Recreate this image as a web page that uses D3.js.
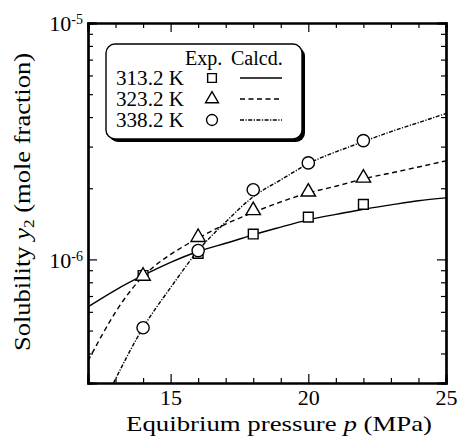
<!DOCTYPE html>
<html>
<head>
<meta charset="utf-8">
<script src="https://cdn.jsdelivr.net/npm/d3@7"></script>
<style>
    body { margin: 0; background: #fff; }
    text { font-family: "Liberation Serif", "Times New Roman", serif; fill: #000; }
    .axis path, .axis line { stroke: #000; }
</style>
</head>
<body>
<div id="chart"></div>
<script>
// experimental points
const expP = [14, 16, 18, 20, 22];
const exp313 = [8.55e-7, 1.06e-6, 1.28e-6, 1.51e-6, 1.71e-6];
const exp323 = [8.5e-7, 1.24e-6, 1.61e-6, 1.93e-6, 2.21e-6];
const exp338 = [5.14e-7, 1.09e-6, 1.97e-6, 2.56e-6, 3.18e-6];

// calculated curves
const calcP = [12, 13, 14, 15, 16, 17, 18, 19, 20, 21, 22, 23, 24, 25];
const calc313 = [6.3e-7, 7.42e-7, 8.55e-7, 9.71e-7, 1.08e-6, 1.17e-6, 1.27e-6, 1.37e-6, 1.47e-6, 1.55e-6, 1.63e-6, 1.70e-6, 1.77e-6, 1.82e-6];
const calc323 = [3.72e-7, 5.98e-7, 8.47e-7, 1.05e-6, 1.23e-6, 1.41e-6, 1.58e-6, 1.75e-6, 1.91e-6, 2.04e-6, 2.19e-6, 2.32e-6, 2.46e-6, 2.61e-6];
const calc338 = [1.82e-7, 3.12e-7, 5.14e-7, 7.60e-7, 1.09e-6, 1.44e-6, 1.84e-6, 2.17e-6, 2.54e-6, 2.85e-6, 3.15e-6, 3.47e-6, 3.79e-6, 4.14e-6];

const labels = ["313.2 K", "323.2 K", "338.2 K"];
const xMajor = [15, 20, 25];
const xMinor = [13, 14, 16, 17, 18, 19, 21, 22, 23, 24];
const yMajor = [1e-6, 1e-5];
const yMinor = [3e-7, 4e-7, 5e-7, 6e-7, 7e-7, 8e-7, 9e-7, 2e-6, 3e-6, 4e-6, 5e-6, 6e-6, 7e-6, 8e-6, 9e-6];

const W = 460, H = 445;
const margin = {top: 23, right: 14, bottom: 62, left: 88};
const width = W - margin.left - margin.right;
const height = H - margin.top - margin.bottom;

const svg = d3.select("#chart").append("svg")
    .attr("width", W)
    .attr("height", H);

const g = svg.append("g")
    .attr("transform", `translate(${margin.left}, ${margin.top})`);

const x = d3.scaleLinear().domain([12, 25]).range([0, width]);
const y = d3.scaleLog().domain([3e-7, 1e-5]).range([height, 0]);

g.append("clipPath").attr("id", "clip")
    .append("rect")
    .attr("width", width)
    .attr("height", height);

// curves
const series = [
    {calc: calc313, exp: exp313, dash: null, sym: d3.symbolSquare, size: 95},
    {calc: calc323, exp: exp323, dash: "5,3.5", sym: d3.symbolTriangle, size: 90},
    {calc: calc338, exp: exp338, dash: "4,1.5,1.2,1.5", sym: d3.symbolCircle, size: 118}
];

const line = d3.line()
    .curve(d3.curveNatural)
    .x(d => x(d[0]))
    .y(d => y(d[1]));

series.forEach(s => {
    g.append("path")
        .attr("clip-path", "url(#clip)")
        .attr("d", line(calcP.map((p, i) => [p, s.calc[i]])))
        .attr("fill", "none")
        .attr("stroke", "#000")
        .attr("stroke-width", 1.4)
        .attr("stroke-dasharray", s.dash);
});

series.forEach(s => {
    g.selectAll(null)
        .data(expP.map((p, i) => [p, s.exp[i]]))
        .enter()
        .append("path")
        .attr("d", d3.symbol().type(s.sym).size(s.size))
        .attr("transform", d => `translate(${x(d[0])}, ${y(d[1])})`)
        .attr("fill", "#fff")
        .attr("stroke", "#000")
        .attr("stroke-width", 1.4);
});

// axes, ticks pointing inwards
function drawAxis(axisFn, vals, size, tf, labelled) {
    const a = g.append("g")
        .attr("class", "axis")
        .attr("transform", tf)
        .call(axisFn.tickValues(vals).tickSize(-size).tickPadding(size ? 9 : 0));
    a.selectAll("path").attr("stroke-width", 2.2);
    a.selectAll("line").attr("stroke-width", 1.2);
    if (!labelled) a.selectAll("text").remove();
    return a;
}

drawAxis(d3.axisBottom(x), xMinor, 5, `translate(0, ${height})`, false);
drawAxis(d3.axisTop(x), xMinor, 5, "translate(0, 0)", false);
drawAxis(d3.axisTop(x), xMajor, 9, "translate(0, 0)", false);
const xb = drawAxis(d3.axisBottom(x).tickFormat(d3.format("d")), xMajor, 9, `translate(0, ${height})`, true);
xb.selectAll("text")
    .attr("font-size", 22)
    .attr("y", 6)
    .attr("dy", "0.71em");

drawAxis(d3.axisLeft(y), yMinor, 5, "translate(0, 0)", false);
drawAxis(d3.axisRight(y), yMinor, 5, `translate(${width}, 0)`, false);
drawAxis(d3.axisRight(y), yMajor, 9, `translate(${width}, 0)`, false);
const yl = drawAxis(d3.axisLeft(y), yMajor, 9, "translate(0, 0)", true);
yl.selectAll("text")
    .text(null)
    .attr("x", -5)
    .attr("dy", "0.36em")
    .attr("font-size", 22)
    .each(function(d) {
        const t = d3.select(this);
        t.append("tspan").text("10");
        t.append("tspan")
            .attr("dy", "-0.5em")
            .attr("font-size", 14)
            .text(String(Math.round(Math.log10(d))));
    });

// axis titles
const xt = svg.append("text")
    .attr("x", 279)
    .attr("y", 431)
    .attr("text-anchor", "middle")
    .attr("font-size", 22)
    .attr("textLength", 306)
    .attr("lengthAdjust", "spacingAndGlyphs");
xt.append("tspan").text("Equibrium pressure ");
xt.append("tspan").attr("font-style", "italic").text("p");
xt.append("tspan").text(" (MPa)");

const yt = svg.append("text")
    .attr("transform", `translate(30, ${margin.top + height / 2 - 1}) rotate(-90)`)
    .attr("text-anchor", "middle")
    .attr("font-size", 23)
    .attr("textLength", 298)
    .attr("lengthAdjust", "spacingAndGlyphs");
yt.append("tspan").text("Solubility ");
yt.append("tspan").attr("font-style", "italic").text("y");
yt.append("tspan").attr("font-size", 15).attr("dy", 4).text("2");
yt.append("tspan").attr("dy", -4).text(" (mole fraction)");

// legend
const legend = svg.append("g");
legend.append("rect")
    .attr("x", 109).attr("y", 47)
    .attr("width", 196).attr("height", 95)
    .attr("rx", 9)
    .attr("fill", "#000");
legend.append("rect")
    .attr("x", 106).attr("y", 44)
    .attr("width", 196).attr("height", 95)
    .attr("rx", 9)
    .attr("fill", "#fff")
    .attr("stroke", "#000")
    .attr("stroke-width", 1.4);

legend.append("text").attr("x", 185).attr("y", 65).attr("font-size", 20).text("Exp.");
legend.append("text").attr("x", 231).attr("y", 65).attr("font-size", 20).text("Calcd.");

const rowY = [78, 99, 120];
series.forEach((s, i) => {
    legend.append("text")
        .attr("x", 116)
        .attr("y", rowY[i] + 7)
        .attr("font-size", 20)
        .attr("textLength", 68)
        .attr("lengthAdjust", "spacingAndGlyphs")
        .text(labels[i]);
    legend.append("path")
        .attr("d", d3.symbol().type(s.sym).size(s.size * 0.8))
        .attr("transform", `translate(212, ${rowY[i]})`)
        .attr("fill", "#fff")
        .attr("stroke", "#000")
        .attr("stroke-width", 1.4);
    legend.append("line")
        .attr("x1", 240).attr("x2", 282)
        .attr("y1", rowY[i]).attr("y2", rowY[i])
        .attr("stroke", "#000")
        .attr("stroke-width", 1.4)
        .attr("stroke-dasharray", s.dash);
});
</script>
</body>
</html>
